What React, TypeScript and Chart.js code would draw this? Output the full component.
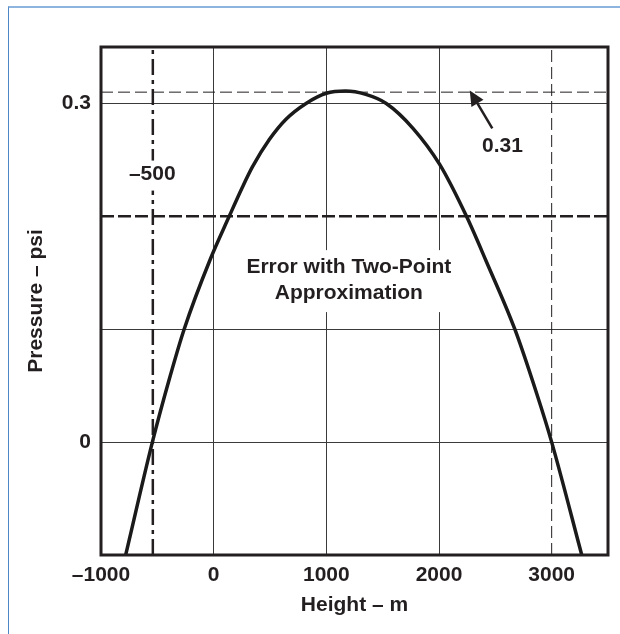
import React, { useEffect, useRef } from 'react';
import { Chart, registerables } from 'chart.js';

Chart.register(...registerables);

// ---- data ----
const curveHeights = [-781, -544, -396, -262, -30, 138, 256, 345, 494, 642, 820, 1000, 1170, 1350, 1532, 1769, 2006, 2244, 2420, 2673, 2867, 3000, 3267];
const curveErrors = [-0.1, 0, 0.055, 0.1, 0.162, 0.2, 0.226, 0.244, 0.268, 0.286, 0.3, 0.309, 0.311, 0.308, 0.3, 0.278, 0.246, 0.2, 0.16, 0.1, 0.043, 0, -0.1];
const xTicks = [-1000, 0, 1000, 2000, 3000];
const yTicks = [0, 0.1, 0.2, 0.3];
const yLabelled = [0, 0.3];
const xMin = -1000;
const xMax = 3500;
const yMin = -0.1;
const yMax = 0.35;
const peakError = 0.31;
const thresholdError = 0.2;
const lowerHeight = -540;
const upperHeight = 3000;
const lowerLabel = '–500';
const peakLabel = '0.31';
const noteLines = ['Error with Two-Point', 'Approximation'];
const noteX = 1200;
const noteYs = [0.155, 0.132];
const lowerLabelPos = { x: -545, y: 0.237 };
const peakLabelPos = { x: 2564, y: 0.262 };
const arrowTail = { x: 2473, y: 0.278 };
const arrowTip = { x: 2273, y: 0.3115 };
const xTitle = 'Height – m';
const yTitle = 'Pressure – psi';

const INK = '#231f20';
const FONT = '"Liberation Sans", Arial, sans-serif';

const fmtX = (v: number) => (v < 0 ? '–' + Math.abs(v) : String(v));

const decorPlugin = {
  id: 'decor',
  beforeDatasetsDraw(chart: any) {
    const { ctx, scales } = chart;
    const xs = scales.x;
    const ys = scales.y;
    ctx.save();
    ctx.font = `bold 21px ${FONT}`;
    const cx = xs.getPixelForValue(noteX);
    const ly = noteYs.map((v) => ys.getPixelForValue(v));
    const w = Math.max(...noteLines.map((t) => ctx.measureText(t).width));
    ctx.fillStyle = '#ffffff';
    ctx.fillRect(cx - w / 2 - 8, ly[0] - 17, w + 16, ly[ly.length - 1] - ly[0] + 36);
    ctx.fillStyle = INK;
    ctx.textAlign = 'center';
    ctx.textBaseline = 'middle';
    noteLines.forEach((t, i) => ctx.fillText(t, cx, ly[i]));
    ctx.restore();
  },
  afterDatasetsDraw(chart: any) {
    const { ctx, scales, chartArea } = chart;
    const xs = scales.x;
    const ys = scales.y;
    ctx.save();
    // frame
    ctx.strokeStyle = INK;
    ctx.lineWidth = 3;
    ctx.strokeRect(chartArea.left, chartArea.top, chartArea.right - chartArea.left, chartArea.bottom - chartArea.top);
    // labels
    ctx.font = `bold 21px ${FONT}`;
    ctx.textAlign = 'center';
    ctx.textBaseline = 'middle';
    const lx = xs.getPixelForValue(lowerLabelPos.x);
    const lyy = ys.getPixelForValue(lowerLabelPos.y);
    const lw = ctx.measureText(lowerLabel).width;
    ctx.fillStyle = '#ffffff';
    ctx.fillRect(lx - lw / 2 - 3, lyy - 14, lw + 6, 30);
    ctx.fillStyle = INK;
    ctx.fillText(lowerLabel, lx, lyy);
    ctx.fillText(peakLabel, xs.getPixelForValue(peakLabelPos.x), ys.getPixelForValue(peakLabelPos.y));
    // arrow
    const tx = xs.getPixelForValue(arrowTail.x);
    const ty = ys.getPixelForValue(arrowTail.y);
    const hx = xs.getPixelForValue(arrowTip.x);
    const hy = ys.getPixelForValue(arrowTip.y);
    const ang = Math.atan2(hy - ty, hx - tx);
    const len = 15;
    const hw = 7;
    const bx = hx - len * Math.cos(ang);
    const by = hy - len * Math.sin(ang);
    ctx.strokeStyle = INK;
    ctx.lineWidth = 2.5;
    ctx.beginPath();
    ctx.moveTo(tx, ty);
    ctx.lineTo(bx, by);
    ctx.stroke();
    ctx.beginPath();
    ctx.moveTo(hx, hy);
    ctx.lineTo(bx + hw * Math.sin(ang), by - hw * Math.cos(ang));
    ctx.lineTo(bx - hw * Math.sin(ang), by + hw * Math.cos(ang));
    ctx.closePath();
    ctx.fill();
    ctx.restore();
  },
};

export default function App() {
  const ref = useRef<HTMLCanvasElement | null>(null);

  useEffect(() => {
    if (!ref.current) return;
    const line = (pts: { x: number; y: number }[], width: number, dash: number[]) => ({
      data: pts,
      borderColor: INK,
      borderWidth: width,
      borderDash: dash,
      pointRadius: 0,
      tension: 0,
      fill: false,
      order: 2,
    });
    const chart = new Chart(ref.current, {
      type: 'line',
      data: {
        datasets: [
          {
            data: curveHeights.map((x, i) => ({ x, y: curveErrors[i] })),
            borderColor: '#1a1a1a',
            borderWidth: 3.5,
            pointRadius: 0,
            cubicInterpolationMode: 'monotone',
            fill: false,
            order: 0,
          } as any,
          line([{ x: xMin, y: thresholdError }, { x: xMax, y: thresholdError }], 2.5, [13, 4]),
          line([{ x: xMin, y: peakError }, { x: xMax, y: peakError }], 1, [12, 5]),
          line([{ x: lowerHeight, y: yMin }, { x: lowerHeight, y: yMax }], 2.5, [16, 5, 4, 5]),
          line([{ x: upperHeight, y: yMin }, { x: upperHeight, y: yMax }], 1, [12, 5]),
        ],
      },
      options: {
        responsive: false,
        animation: false,
        events: [],
        layout: { padding: { top: 47, right: 12, left: 0, bottom: 0 } },
        plugins: { legend: { display: false }, tooltip: { enabled: false } },
        scales: {
          x: {
            type: 'linear',
            min: xMin,
            max: xMax,
            afterBuildTicks: (s: any) => {
              s.ticks = xTicks.map((v) => ({ value: v }));
            },
            afterFit: (s: any) => {
              s.height = 79;
            },
            ticks: {
              callback: (v: any) => fmtX(Number(v)),
              color: INK,
              font: { family: FONT, size: 21, weight: 'bold' },
              padding: 8,
              maxRotation: 0,
              autoSkip: false,
            },
            grid: {
              drawTicks: false,
              color: (c: any) => {
                const v = c.tick ? c.tick.value : null;
                return v === 0 || v === 1000 || v === 2000 ? '#3a3a3a' : 'rgba(0,0,0,0)';
              },
              lineWidth: 1,
            },
            border: { display: false },
            title: {
              display: true,
              text: xTitle,
              color: INK,
              font: { family: FONT, size: 21, weight: 'bold' },
              padding: { top: 0, bottom: 16 },
            },
          },
          y: {
            type: 'linear',
            min: yMin,
            max: yMax,
            afterBuildTicks: (s: any) => {
              s.ticks = yTicks.map((v) => ({ value: v }));
            },
            afterFit: (s: any) => {
              s.width = 101;
            },
            ticks: {
              callback: (v: any) => (yLabelled.includes(Number(v)) ? String(v) : ''),
              color: INK,
              font: { family: FONT, size: 21, weight: 'bold' },
              padding: 10,
              autoSkip: false,
            },
            grid: {
              drawTicks: false,
              color: (c: any) => {
                const v = c.tick ? c.tick.value : null;
                return v === 0 || v === 0.1 || v === 0.3 ? '#3a3a3a' : 'rgba(0,0,0,0)';
              },
              lineWidth: 1,
            },
            border: { display: false },
            title: {
              display: true,
              text: yTitle,
              color: INK,
              font: { family: FONT, size: 21, weight: 'bold' },
              padding: { top: 24, bottom: 0 },
            },
          },
        },
      } as any,
      plugins: [decorPlugin],
    });
    return () => chart.destroy();
  }, []);

  return (
    <div style={{ position: 'absolute', left: 0, top: 0, width: 620, height: 634, background: '#fff', overflow: 'hidden' }}>
      <div
        style={{
          position: 'absolute',
          left: 8,
          top: 6,
          width: 640,
          height: 660,
          borderTop: '2px solid #8db3df',
          borderLeft: '1px solid #4f86c6',
        }}
      />
      <canvas ref={ref} width={620} height={634} style={{ position: 'absolute', left: 0, top: 0 }} />
    </div>
  );
}
